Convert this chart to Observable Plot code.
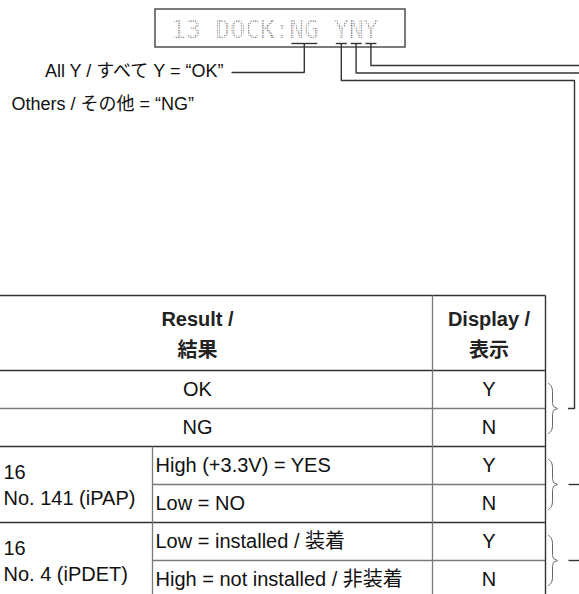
<!DOCTYPE html>
<html><head><meta charset="utf-8">
<script src="https://cdn.jsdelivr.net/npm/d3@7"></script>
<script src="https://cdn.jsdelivr.net/npm/@observablehq/plot@0.6"></script>
<style>html,body{margin:0;padding:0;background:#fff}svg{display:block}</style>
</head><body><div id="chart"></div>
<script>
// ---------- data ----------
const lcdText = "13 DOCK:NG YNY";
const lcdFlags = [[8, 9], [11, 11], [12, 12], [13, 13]];   // character spans that are underlined
const summaryLabels = ["All Y / すべて Y = “OK”", "Others / その他 = “NG”"];
const headerResult = ["Result /", "結果"];
const headerDisplay = ["Display /", "表示"];
const resultValues = ["OK", "NG"];
const resultDisplay = ["Y", "N"];
const signalPins = [["16", "No. 141 (iPAP)"], ["16", "No. 4 (iPDET)"]];
const signalStates = [["High (+3.3V) = YES", "Low = NO"], ["Low = installed / 装着", "High = not installed / 非装着"]];
const signalDisplay = [["Y", "N"], ["Y", "N"]];

// ---------- layout ----------
const W = 579, H = 594;
const SANS = "'Liberation Sans', Arial, Helvetica, 'Noto Sans CJK JP', sans-serif";
const MONO = "'DejaVu Sans Mono', monospace";
const box = {x1: 155, x2: 405, y1: 9, y2: 47};
const pitch = 14.8, char0 = 178, lcdBase = 29.5, underY = 43, half = 5.5;
const cx = i => char0 + pitch * i;
const T = {left: -38, c1: 152, c2: 432, c3: 545, top: 295, headBot: 370, rowH: 38};
const rowTop = i => T.headBot + T.rowH * i;
const rowMid = i => rowTop(i) + T.rowH / 2;
const dark = "#333", gray = "#7a7a7a";

// LCD underlines and connectors
const under = lcdFlags.map(([a, b]) => ({x1: cx(a) - half, x2: cx(b) + half, y1: underY, y2: underY}));
const mids = lcdFlags.map(([a, b]) => (cx(a) + cx(b)) / 2);
const conn = [
  {id: 0, pts: [[mids[0], underY], [mids[0], 72], [231, 72]]},
  {id: 1, pts: [[mids[1], underY], [mids[1], 80], [574, 80], [574, rowTop(1)], [567.5, rowTop(1)]]},
  {id: 2, pts: [[mids[2], underY], [mids[2], 72.5], [W + 2, 72.5]]},
  {id: 3, pts: [[mids[3], underY], [mids[3], 65], [W + 2, 65]]},
  {id: 4, pts: [[568, rowTop(3)], [W + 2, rowTop(3)]]},
  {id: 5, pts: [[568, rowTop(5)], [W + 2, rowTop(5)]]}
].flatMap(c => c.pts.map(([x, y]) => ({id: c.id, x, y})));

// braces spanning each Y/N pair
const bracePairs = [0, 2, 4];
const braces = bracePairs.flatMap((r, k) => {
  const y0 = rowTop(r) + 13, ym = rowTop(r + 1), y1 = rowTop(r + 2) - 13;
  const xl = 548, xr = 552, xt = 557;
  return [[xl, y0], [551, y0 + 3], [xr, y0 + 8], [xr, ym - 6], [553.5, ym - 1.5], [xt, ym],
          [553.5, ym + 1.5], [xr, ym + 6], [xr, y1 - 8], [551, y1 - 3], [xl, y1]]
    .map(([x, y]) => ({id: k, x, y}));
});

// table grid
const hDark = [
  {x1: T.left, x2: T.c3, y: T.top}, {x1: T.left, x2: T.c3, y: T.headBot},
  {x1: T.left, x2: T.c3, y: rowTop(2)}, {x1: T.left, x2: T.c3, y: rowTop(4)}
];
const hGray = [
  {x1: T.left, x2: T.c3, y: rowTop(1)}, {x1: T.c1, x2: T.c3, y: rowTop(3)}, {x1: T.c1, x2: T.c3, y: rowTop(5)}
];
const vDark = [{x: T.c3, y1: T.top, y2: H + 5}];
const vGray = [{x: T.c2, y1: T.top, y2: H + 5}, {x: T.c1, y1: rowTop(2), y2: H + 5}];

const resCx = (T.left + T.c2) / 2, dispCx = (T.c2 + T.c3) / 2;

const headTexts = [
  {x: resCx, y: 319, t: headerResult[0]}, {x: resCx, y: 350, t: headerResult[1]},
  {x: dispCx, y: 319, t: headerDisplay[0]}, {x: dispCx, y: 350, t: headerDisplay[1]}
];
const centerTexts = [
  ...resultValues.map((t, i) => ({x: resCx, y: rowMid(i), t})),
  ...resultDisplay.map((t, i) => ({x: dispCx, y: rowMid(i), t})),
  ...signalDisplay.flatMap((pair, g) => pair.map((t, j) => ({x: dispCx, y: rowMid(2 + 2 * g + j), t})))
];
const leftTexts = [
  ...signalPins.flatMap((pair, g) => pair.map((t, j) => ({x: 3, y: rowTop(2 + 2 * g) + 26 + 26 * j, t}))),
  ...signalStates.flatMap((pair, g) => pair.map((t, j) => ({x: T.c1 + 3, y: rowMid(2 + 2 * g + j), t})))
];
const labelTexts = [
  {x: 223, y: 71, t: summaryLabels[0], a: "end"}, {x: 11, y: 104, t: summaryLabels[1], a: "start"}
];

const plot = Plot.plot({
  width: W, height: H, margin: 0,
  x: {domain: [0, W], range: [0, W], axis: null},
  y: {domain: [0, H], range: [0, H], axis: null},
  style: {background: "#fff", fontFamily: SANS},
  marks: [
    Plot.rect([box], {x1: "x1", x2: "x2", y1: "y1", y2: "y2", fill: "none", stroke: "#444", strokeWidth: 1.4}),
    Plot.text([lcdText], {x: () => cx(0) - pitch / 2, y: () => lcdBase, text: d => d, textAnchor: "start",
      fontFamily: MONO, fontSize: 24.6, fill: "url(#dots)", lineAnchor: "middle"}),
    Plot.link(under, {x1: "x1", x2: "x2", y1: "y1", y2: "y2", stroke: dark, strokeWidth: 1.4}),
    Plot.line(conn, {x: "x", y: "y", z: "id", stroke: dark, strokeWidth: 1.4, strokeLinejoin: "miter", strokeLinecap: "butt"}),
    Plot.line(braces, {x: "x", y: "y", z: "id", stroke: "#555", strokeWidth: 0.9, curve: "monotone-y"}),
    Plot.link(hDark, {x1: "x1", x2: "x2", y1: "y", y2: "y", stroke: dark, strokeWidth: 1.3}),
    Plot.link(hGray, {x1: "x1", x2: "x2", y1: "y", y2: "y", stroke: gray, strokeWidth: 1.3}),
    Plot.link(vDark, {x1: "x", x2: "x", y1: "y1", y2: "y2", stroke: dark, strokeWidth: 1.4}),
    Plot.link(vGray, {x1: "x", x2: "x", y1: "y1", y2: "y2", stroke: gray, strokeWidth: 1.3}),
    Plot.text(labelTexts.filter(d => d.a === "end"), {x: "x", y: "y", text: "t", textAnchor: "end", fontSize: 18, fill: "#111"}),
    Plot.text(labelTexts.filter(d => d.a === "start"), {x: "x", y: "y", text: "t", textAnchor: "start", fontSize: 18, fill: "#111"}),
    Plot.text(headTexts, {x: "x", y: "y", text: "t", textAnchor: "middle", fontSize: 20, fontWeight: "bold", fill: "#222"}),
    Plot.text(centerTexts, {x: "x", y: "y", text: "t", textAnchor: "middle", fontSize: 20, fill: "#111"}),
    Plot.text(leftTexts, {x: "x", y: "y", text: "t", textAnchor: "start", fontSize: 20, fill: "#111"})
  ]
});

// dotted LCD pattern
const ns = "http://www.w3.org/2000/svg";
const defs = document.createElementNS(ns, "defs");
const pat = document.createElementNS(ns, "pattern");
pat.setAttribute("id", "dots"); pat.setAttribute("patternUnits", "userSpaceOnUse");
pat.setAttribute("width", "2.4"); pat.setAttribute("height", "2.4");
const dot = document.createElementNS(ns, "rect");
dot.setAttribute("width", "1.3"); dot.setAttribute("height", "1.3"); dot.setAttribute("fill", "#6e6e6e");
pat.appendChild(dot); defs.appendChild(pat); plot.insertBefore(defs, plot.firstChild);

document.getElementById("chart").appendChild(plot);
</script></body></html>
